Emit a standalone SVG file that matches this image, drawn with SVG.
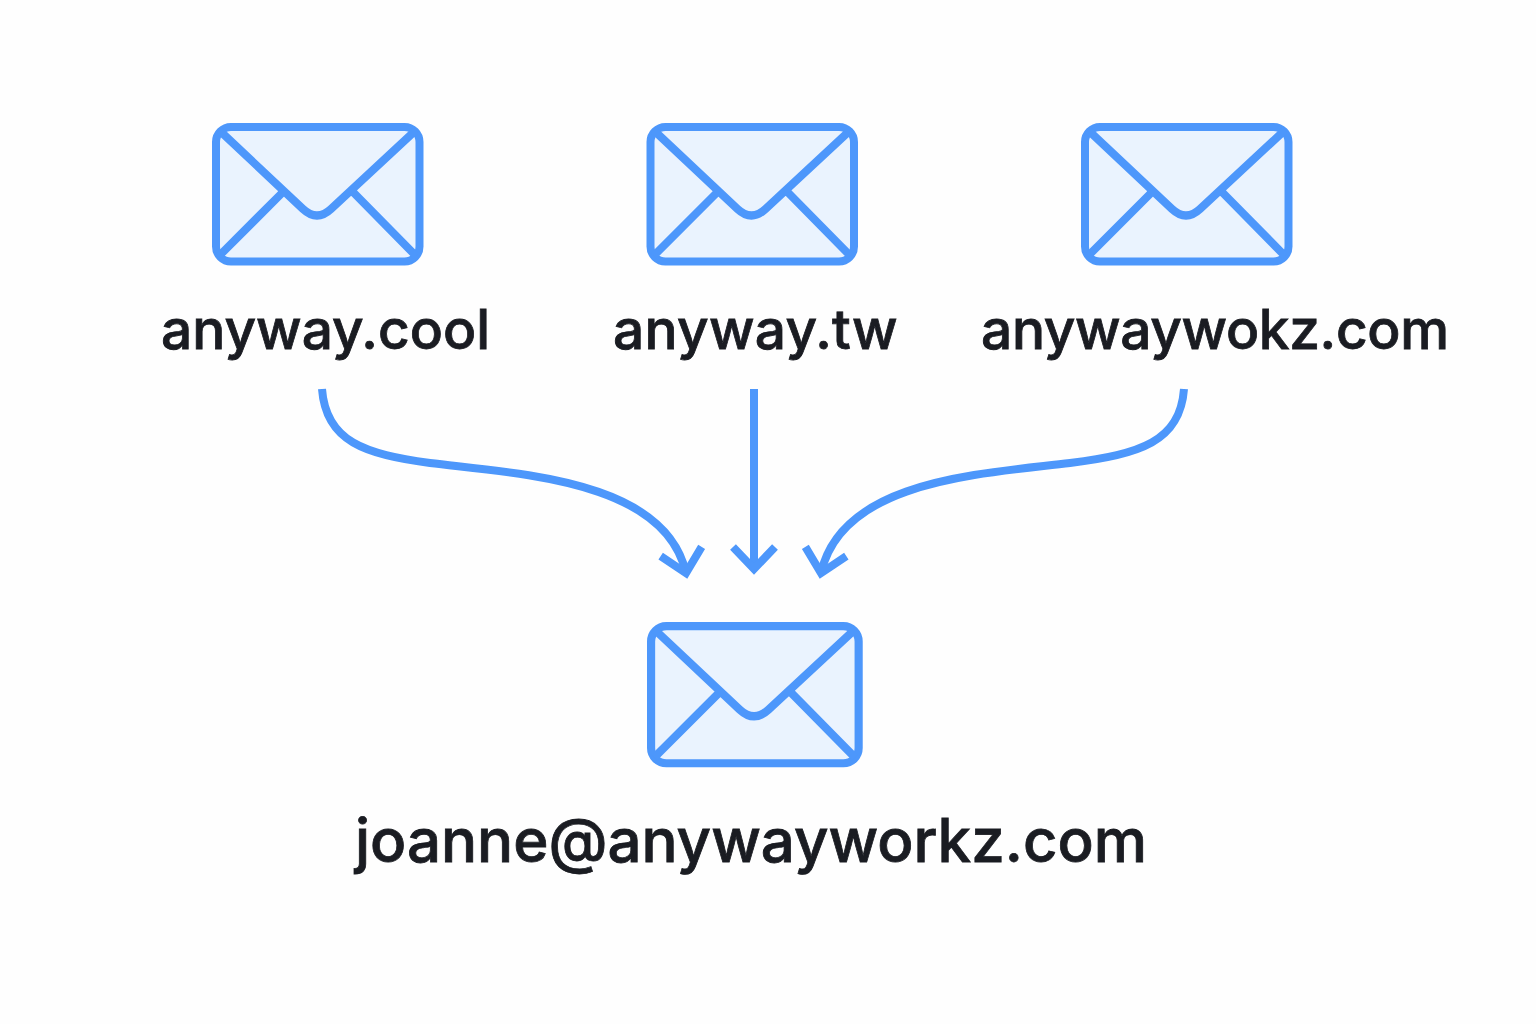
<svg xmlns="http://www.w3.org/2000/svg" width="1536" height="1024" viewBox="0 0 1536 1024">
<style>
.bg{fill:#fefefe}
.body{fill:#eaf3fe;stroke:#4d97fb;stroke-width:8}
.line{fill:none;stroke:#4d97fb;stroke-width:8;stroke-linecap:butt;stroke-linejoin:round}
.conn{fill:none;stroke:#4d97fb;stroke-width:8}
.label{font-family:"Inter","Liberation Sans",sans-serif;font-weight:500;fill:#1a1c22;stroke:#1a1c22;stroke-width:0.8;font-size:55px}
.big{font-size:60px}
</style>
<defs>
<symbol id="env" overflow="visible">
<rect class="body" x="216" y="127" width="203.5" height="134.5" rx="15"/>
<path class="line" d="M219 130L303 209Q317 222 331 209L416 130M284 191L219 256M352 191L416 256"/>
</symbol>
<marker id="head" markerUnits="userSpaceOnUse" markerWidth="60" markerHeight="60" viewBox="-30 -30 60 60" refX="0" refY="0" orient="auto" overflow="visible">
<path d="M-22 -21L0 0L-22 21" fill="none" stroke="#4d97fb" stroke-width="8"/>
</marker>
</defs>
<rect class="bg" width="1536" height="1024"/>
<g id="connectors">
<path class="conn" marker-end="url(#head)" d="M322 389C326 442 365 454 430 463C520 474 665 480 686 573"/>
<path class="conn" marker-end="url(#head)" d="M754 389V569"/>
<path class="conn" marker-end="url(#head)" d="M1184 389C1180 442 1140 454 1070 463C980 474 842 480 821 573"/>
</g>
<g id="node-cool"><use href="#env"/><text class="label" x="161" y="349">anyway.cool</text></g>
<g id="node-tw"><use href="#env" x="434.5"/><text class="label" x="613" y="349" letter-spacing="0.3">anyway.tw</text></g>
<g id="node-workz"><use href="#env" x="869"/><text class="label" x="981" y="349" letter-spacing="-0.35">anywaywokz.com</text></g>
<g id="node-joanne"><use href="#env" transform="translate(647 622) scale(1.02) translate(-212 -123)"/><text class="label big" x="355" y="862">joanne@anywayworkz.com</text></g>
</svg>
